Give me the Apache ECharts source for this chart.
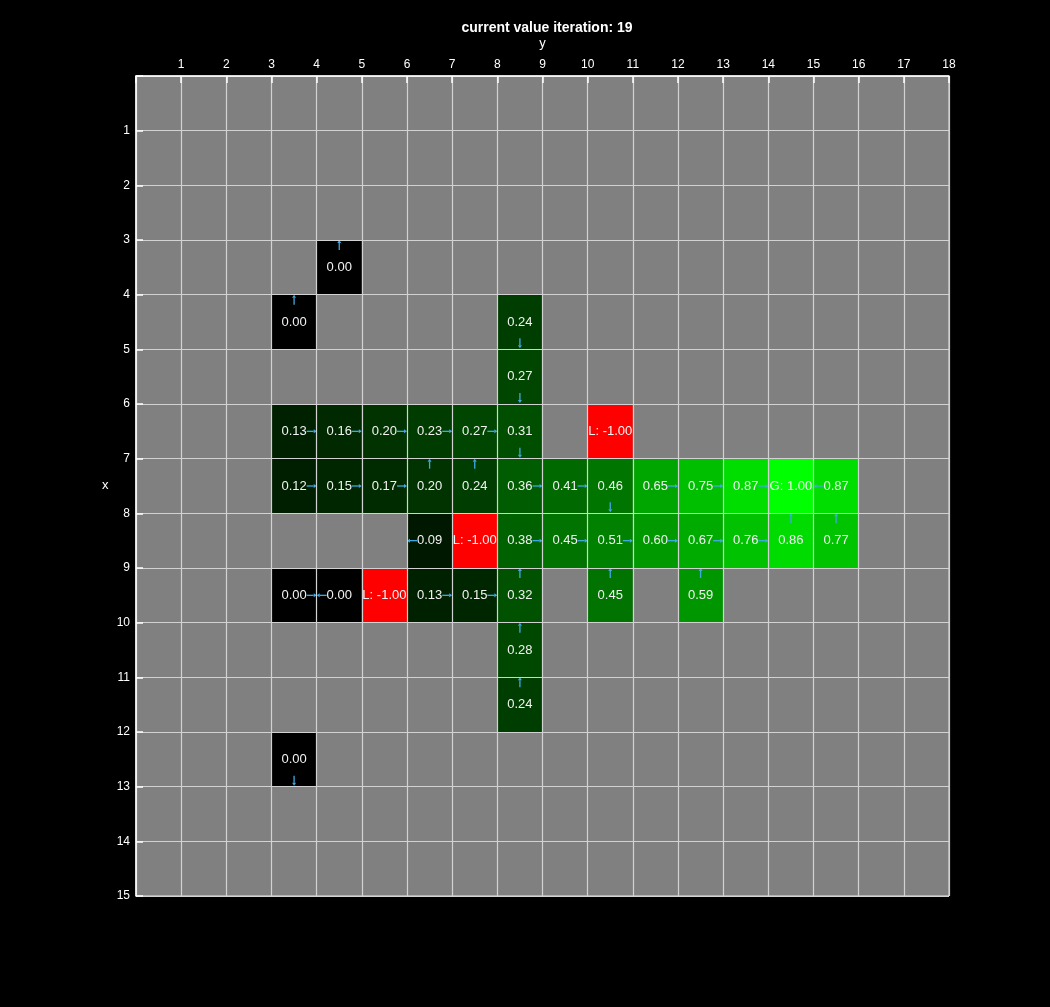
<!DOCTYPE html>
<html>
<head>
<meta charset="utf-8">
<script src="https://cdn.jsdelivr.net/npm/echarts@6/dist/echarts.min.js"></script>
<style>html,body{margin:0;padding:0;background:#000;}#chart{width:1050px;height:1007px;}</style>
</head>
<body>
<div id="chart"></div>
<script>
// Cell lower bounds on the "x" axis (rows, vertical) and "y" axis (columns, horizontal)
const cellRow = [3,4,4,5,6,6,6,6,6,6,6,7,7,7,7,7,7,7,7,7,7,7,7,7,8,8,8,8,8,8,8,8,8,8,9,9,9,9,9,9,9,9,10,11,12];
const cellCol = [4,3,8,8,3,4,5,6,7,8,10,3,4,5,6,7,8,9,10,11,12,13,14,15,6,7,8,9,10,11,12,13,14,15,3,4,5,6,7,8,10,12,8,8,3];
const cellValue = [0.00,0.00,0.24,0.27,0.13,0.16,0.20,0.23,0.27,0.31,-1.00,0.12,0.15,0.17,0.20,0.24,0.36,0.41,0.46,0.65,0.75,0.87,1.00,0.87,0.09,-1.00,0.38,0.45,0.51,0.60,0.67,0.76,0.86,0.77,0.00,0.00,-1.00,0.13,0.15,0.32,0.45,0.59,0.28,0.24,0.00];
const cellKind = ['','','','','','','','','','','L','','','','','','','','','','','','G','','','L','','','','','','','','','','','L','','','','','','','',''];
const cellArrow = ['up','up','down','down','right','right','right','right','right','down','','right','right','right','up','up','right','right','down','right','right','right','','left','left','','right','right','right','right','right','right','up','up','right','left','','right','right','up','up','up','up','up','down'];
const xTicks = [1,2,3,4,5,6,7,8,9,10,11,12,13,14,15,16,17,18];
const yTicks = [1,2,3,4,5,6,7,8,9,10,11,12,13,14,15];

const data = cellRow.map((r, i) => [cellCol[i], r, cellValue[i], cellKind[i], cellArrow[i]]);

function cellColor(v, kind) {
  if (kind === 'L') return '#ff0000';
  const g = Math.round(Math.max(0, Math.min(1, v)) * 255);
  return 'rgb(0,' + g + ',0)';
}

const arrowColor = '#3fa9e2';
function arrowShapes(x0, y0, x1, y1, dir) {
  const xc = (x0 + x1) / 2, yc = (y0 + y1) / 2;
  let a, b; // tail, head
  if (dir === 'right') { a = [x1 - 10, yc]; b = [x1, yc]; }
  else if (dir === 'left') { a = [x0 + 10, yc]; b = [x0, yc]; }
  else if (dir === 'up') { a = [xc, y0 + 10]; b = [xc, y0]; }
  else if (dir === 'down') { a = [xc, y1 - 11]; b = [xc, y1 - 1]; }
  else return [];
  const dx = b[0] - a[0], dy = b[1] - a[1];
  const len = Math.hypot(dx, dy), ux = dx / len, uy = dy / len;
  const hl = 3, hw = 2;
  const base = [b[0] - ux * hl, b[1] - uy * hl];
  return [
    { type: 'line', shape: { x1: a[0], y1: a[1], x2: base[0], y2: base[1] }, style: { stroke: arrowColor, lineWidth: 1.3 } },
    { type: 'polygon', shape: { points: [b, [base[0] - uy * hw, base[1] + ux * hw], [base[0] + uy * hw, base[1] - ux * hw]] }, style: { fill: arrowColor } }
  ];
}

const chart = echarts.init(document.getElementById('chart'));
chart.setOption({
  backgroundColor: '#000',
  animation: false,
  title: {
    text: 'current value iteration: 19',
    left: 542, top: 16, textAlign: 'center',
    textStyle: { color: '#fff', fontSize: 14, fontWeight: 'bold', fontFamily: 'Liberation Sans' }
  },
  graphic: [{
    type: 'text', left: 102, top: 479,
    style: { text: 'x', fill: '#fff', fontSize: 13, fontFamily: 'Liberation Sans' }
  }],
  grid: { left: 136, right: 101, top: 76, bottom: 111, show: true, backgroundColor: '#808080', borderColor: '#e6e6e6', borderWidth: 1 },
  xAxis: {
    type: 'value', position: 'top', min: 0, max: 18, interval: 1, z: 5,
    name: 'y', nameLocation: 'middle', nameGap: 26,
    nameTextStyle: { color: '#fff', fontSize: 13, fontFamily: 'Liberation Sans' },
    axisLine: { lineStyle: { color: '#fff', width: 1.5 } },
    axisTick: { inside: true, length: 7, lineStyle: { color: '#fff', width: 1.5 } },
    axisLabel: { color: '#fff', fontSize: 12, fontFamily: 'Liberation Sans', margin: 5,
      formatter: v => xTicks.indexOf(v) >= 0 ? String(v) : '' },
    splitLine: { show: true, lineStyle: { color: '#d2d2d2', width: 1.2 } }
  },
  yAxis: {
    type: 'value', inverse: true, min: 0, max: 15, interval: 1, z: 5,
    axisLine: { lineStyle: { color: '#fff', width: 1.5 } },
    axisTick: { inside: true, length: 7, lineStyle: { color: '#fff', width: 1.5 } },
    axisLabel: { color: '#fff', fontSize: 12, fontFamily: 'Liberation Sans', margin: 6,
      formatter: v => yTicks.indexOf(v) >= 0 ? String(v) : '' },
    splitLine: { show: true, lineStyle: { color: '#d2d2d2', width: 1.2 } }
  },
  series: [{
    type: 'custom',
    z: 1,
    data: data,
    renderItem: function (params, api) {
      const c = api.value(0), r = api.value(1), v = api.value(2);
      const kind = data[params.dataIndex][3];
      const dir = data[params.dataIndex][4];
      const p0 = api.coord([c, r]);
      const p1 = api.coord([c + 1, r + 1]);
      const x0 = p0[0], y0 = p0[1], x1 = p1[0], y1 = p1[1];
      let label = v.toFixed(2);
      if (kind === 'L') label = 'L: ' + v.toFixed(2);
      if (kind === 'G') label = 'G: ' + v.toFixed(2);
      const children = [
        { type: 'rect', shape: { x: x0, y: y0, width: x1 - x0, height: y1 - y0 }, style: { fill: cellColor(v, kind) } },
        { type: 'text', style: { text: label, x: (x0 + x1) / 2, y: (y0 + y1) / 2, align: 'center', verticalAlign: 'middle', fill: '#f2f2f2', fontSize: 13, fontFamily: 'Liberation Sans' } }
      ].concat(arrowShapes(x0, y0, x1, y1, dir));
      return { type: 'group', children: children };
    }
  }]
});
</script>
</body>
</html>
